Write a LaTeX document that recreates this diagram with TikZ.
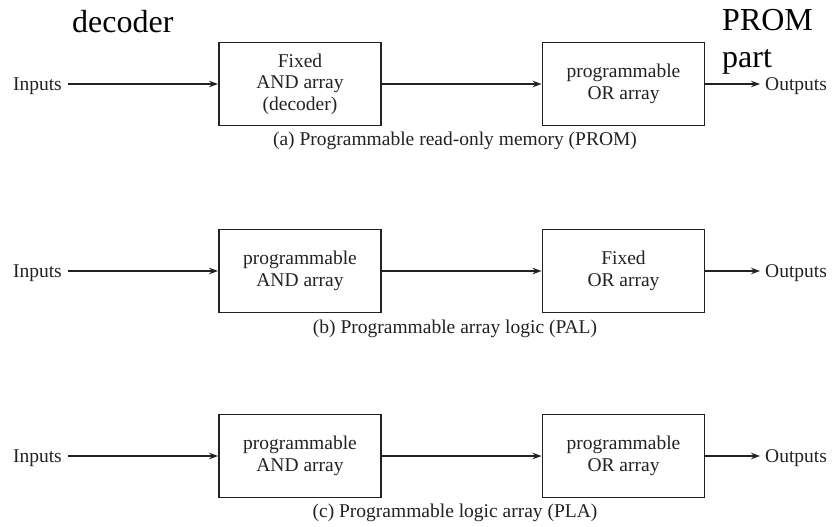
\documentclass[tikz,border=0pt]{standalone}
\usepackage{fontspec}
\setmainfont{Liberation Serif}
\usetikzlibrary{arrows.meta}
\definecolor{ink}{HTML}{222222}
\begin{document}
\begin{tikzpicture}[x=1pt,y=-1pt,
  blockbox/.style={draw=ink,line width=1.9pt,minimum width=162pt,minimum height=83pt,
    inner sep=0pt,align=center,text=ink,font=\fontsize{19.5}{21.5}\selectfont},
  lbl/.style={text=ink,font=\fontsize{19.5}{21.5}\selectfont,inner sep=0pt},
  flow/.style={draw=ink,line width=1.4pt,-{Stealth[length=9pt,width=6.5pt]}},
  big/.style={text=black,font=\fontsize{32}{37}\selectfont,inner sep=0pt}]
\useasboundingbox (0,0) rectangle (832,527);

% (a) PROM
\node[blockbox] (a1) at (300,84) {Fixed\\AND array\\(decoder)};
\node[blockbox] (a2) at (623.5,84) {programmable\\OR array};
\node[lbl,anchor=east] (ain) at (62,86) {Inputs};
\node[lbl,anchor=west,inner xsep=5pt] (aout) at (760,86) {Outputs};
\draw[flow] (ain.east |- a1.west) ++(6,0) -- (a1.west);
\draw[flow] (a1) -- (a2);
\draw[flow] (a2.east) -- (aout.west |- a2.east);
\node[lbl] (acap) at (455,141) {(a) Programmable read-only memory (PROM)};

% (b) PAL
\node[blockbox] (b1) at (300,271) {programmable\\AND array};
\node[blockbox] (b2) at (623.5,271) {Fixed\\OR array};
\node[lbl,anchor=east] (bin) at (62,273) {Inputs};
\node[lbl,anchor=west,inner xsep=5pt] (bout) at (760,273) {Outputs};
\draw[flow] (bin.east |- b1.west) ++(6,0) -- (b1.west);
\draw[flow] (b1) -- (b2);
\draw[flow] (b2.east) -- (bout.west |- b2.east);
\node[lbl] (bcap) at (455,329) {(b) Programmable array logic (PAL)};

% (c) PLA
\node[blockbox] (c1) at (300,456) {programmable\\AND array};
\node[blockbox] (c2) at (623.5,456) {programmable\\OR array};
\node[lbl,anchor=east] (cin) at (62,458) {Inputs};
\node[lbl,anchor=west,inner xsep=5pt] (cout) at (760,458) {Outputs};
\draw[flow] (cin.east |- c1.west) ++(6,0) -- (c1.west);
\draw[flow] (c1) -- (c2);
\draw[flow] (c2.east) -- (cout.west |- c2.east);
\node[lbl] (ccap) at (455,513) {(c) Programmable logic array (PLA)};

% handwritten-style annotations
\node[big,anchor=base west] (dec) at (72,33) {decoder};
\node[big,anchor=north west,align=left] (prompart) at (722,9) {PROM\\part};
\end{tikzpicture}
\end{document}
